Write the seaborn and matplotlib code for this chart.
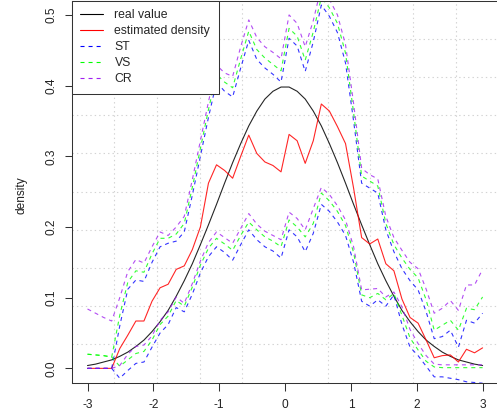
import numpy as np
import pandas as pd
import matplotlib
matplotlib.use("Agg")
import matplotlib.pyplot as plt
import seaborn as sns
from matplotlib.lines import Line2D

# ---------------- data ----------------
x_grid = np.linspace(-3, 3, 50)

real_value = [0.004, 0.006, 0.009, 0.012, 0.017, 0.023, 0.031, 0.040, 0.052, 0.066,
              0.082, 0.102, 0.124, 0.148, 0.175, 0.203, 0.232, 0.262, 0.291, 0.318,
              0.343, 0.364, 0.381, 0.392, 0.398, 0.398, 0.392, 0.381, 0.364, 0.343,
              0.318, 0.291, 0.262, 0.232, 0.203, 0.175, 0.148, 0.124, 0.102, 0.082,
              0.066, 0.052, 0.040, 0.031, 0.023, 0.017, 0.012, 0.009, 0.006, 0.004]

estimated_density = [0.000, 0.000, 0.000, 0.000, 0.028, 0.047, 0.067, 0.067, 0.095, 0.114,
                     0.119, 0.140, 0.145, 0.168, 0.200, 0.262, 0.288, 0.280, 0.269, 0.300,
                     0.330, 0.304, 0.292, 0.287, 0.278, 0.331, 0.322, 0.290, 0.322, 0.374,
                     0.364, 0.342, 0.318, 0.255, 0.185, 0.176, 0.183, 0.148, 0.138, 0.098,
                     0.072, 0.064, 0.040, 0.015, 0.018, 0.019, 0.009, 0.027, 0.022, 0.029]

st_upper = [0.000, 0.000, 0.000, 0.000, 0.060, 0.112, 0.125, 0.123, 0.150, 0.172,
            0.177, 0.180, 0.193, 0.245, 0.300, 0.355, 0.405, 0.392, 0.384, 0.425,
            0.464, 0.437, 0.425, 0.416, 0.405, 0.467, 0.456, 0.420, 0.462, 0.514,
            0.498, 0.475, 0.432, 0.350, 0.262, 0.255, 0.248, 0.196, 0.165, 0.141,
            0.124, 0.111, 0.080, 0.042, 0.045, 0.054, 0.030, 0.068, 0.064, 0.078]

st_lower = [0.000, 0.000, 0.000, 0.000, -0.014, -0.003, 0.007, 0.009, 0.030, 0.050,
            0.062, 0.086, 0.080, 0.105, 0.135, 0.158, 0.172, 0.164, 0.153, 0.175,
            0.196, 0.182, 0.172, 0.166, 0.156, 0.196, 0.186, 0.165, 0.191, 0.232,
            0.222, 0.207, 0.188, 0.150, 0.095, 0.088, 0.097, 0.088, 0.104, 0.062,
            0.030, 0.018, 0.003, -0.012, -0.012, -0.014, -0.016, -0.019, -0.020, -0.021]

vs_upper = [0.020, 0.019, 0.018, 0.016, 0.075, 0.122, 0.138, 0.136, 0.162, 0.184,
            0.184, 0.190, 0.205, 0.256, 0.311, 0.366, 0.416, 0.405, 0.397, 0.438,
            0.477, 0.451, 0.439, 0.430, 0.421, 0.481, 0.470, 0.436, 0.476, 0.525,
            0.510, 0.488, 0.446, 0.362, 0.272, 0.265, 0.258, 0.205, 0.175, 0.156,
            0.140, 0.128, 0.097, 0.054, 0.061, 0.068, 0.054, 0.085, 0.083, 0.101]

vs_lower = [0.020, 0.019, 0.018, 0.016, 0.003, 0.012, 0.021, 0.024, 0.040, 0.062,
            0.074, 0.096, 0.088, 0.115, 0.146, 0.170, 0.184, 0.176, 0.167, 0.188,
            0.207, 0.196, 0.186, 0.180, 0.172, 0.210, 0.200, 0.186, 0.205, 0.248,
            0.237, 0.222, 0.202, 0.164, 0.104, 0.100, 0.106, 0.097, 0.106, 0.075,
            0.043, 0.026, 0.010, 0.002, 0.001, 0.001, 0.001, 0.001, 0.001, 0.001]

cr_upper = [0.084, 0.078, 0.072, 0.067, 0.100, 0.137, 0.154, 0.149, 0.172, 0.193,
            0.188, 0.200, 0.215, 0.267, 0.322, 0.377, 0.429, 0.418, 0.413, 0.455,
            0.493, 0.468, 0.455, 0.447, 0.438, 0.500, 0.488, 0.455, 0.492, 0.540,
            0.522, 0.500, 0.458, 0.375, 0.283, 0.274, 0.268, 0.215, 0.185, 0.167,
            0.150, 0.141, 0.112, 0.078, 0.085, 0.096, 0.082, 0.118, 0.118, 0.140]

cr_lower = [0.000, 0.000, 0.000, 0.000, 0.004, 0.020, 0.031, 0.033, 0.046, 0.068,
            0.080, 0.101, 0.092, 0.120, 0.152, 0.178, 0.193, 0.185, 0.177, 0.198,
            0.219, 0.204, 0.194, 0.188, 0.182, 0.221, 0.212, 0.196, 0.226, 0.256,
            0.246, 0.230, 0.210, 0.172, 0.111, 0.112, 0.113, 0.101, 0.108, 0.087,
            0.055, 0.035, 0.018, 0.006, 0.005, 0.005, 0.005, 0.005, 0.005, 0.005]

legend_labels = ["real value", "estimated density", "ST", "VS", "CR"]
x_ticks = [-3, -2, -1, 0, 1, 2, 3]
x_tick_labels = ["-3", "-2", "-1", "0", "1", "2", "3"]
y_ticks = [0.0, 0.1, 0.2, 0.3, 0.4, 0.5]
y_tick_labels = ["0.0", "0.1", "0.2", "0.3", "0.4", "0.5"]
y_label = "density"

# ---------------- style ----------------
sns.set_style("white")
plt.rcParams.update({
    "axes.unicode_minus": False,
    "lines.scale_dashes": False,
    "font.size": 8.6,
})
plt.rcParams["font.family"] = ["Liberation Sans", "DejaVu Sans"]

COL_REAL = "#000000"
COL_EST = "#FF0000"
COL_ST = "#0000FF"
COL_VS = "#00FF00"
COL_CR = "#A020F0"
LW = 0.8
DASH = (0, (2.9, 2.9))

fig = plt.figure(figsize=(4.97, 4.16), dpi=100)
ax = fig.add_axes([71.7 / 497, (416 - 382.5) / 416, (498.4 - 71.7) / 497, (382.5 - 0.8) / 416])

xlim = (-3.24, 3.24)
ylim = (-0.02, 0.52)

df = pd.DataFrame({
    "x": x_grid,
    "real": real_value,
    "est": estimated_density,
    "st_u": st_upper, "st_l": st_lower,
    "vs_u": vs_upper, "vs_l": vs_lower,
    "cr_u": cr_upper, "cr_l": cr_lower,
})

sns.lineplot(data=df, x="x", y="real", ax=ax, color=COL_REAL, linewidth=LW, alpha=0.85)
sns.lineplot(data=df, x="x", y="est", ax=ax, color=COL_EST, linewidth=LW, alpha=0.85)
for col, c in [("st_u", COL_ST), ("st_l", COL_ST), ("vs_u", COL_VS), ("vs_l", COL_VS),
               ("cr_u", COL_CR), ("cr_l", COL_CR)]:
    sns.lineplot(data=df, x="x", y=col, ax=ax, color=c, linewidth=LW, linestyle=DASH, alpha=0.8)

ax.set_xlim(*xlim)
ax.set_ylim(*ylim)

# R-style grid: 10 equal cells across the plot region
gx = [xlim[0] + (xlim[1] - xlim[0]) * i / 10 for i in range(1, 10)]
gy = [ylim[0] + (ylim[1] - ylim[0]) * i / 10 for i in range(1, 10)]
ax.set_xticks(gx, minor=True)
ax.set_yticks(gy, minor=True)
ax.grid(which="minor", color="#D3D3D3", linestyle=(0, (1, 2.2)), linewidth=0.8)
ax.grid(which="major", visible=False)
ax.set_axisbelow(True)

ax.set_xticks(x_ticks)
ax.set_xticklabels(x_tick_labels)
ax.set_yticks(y_ticks)
ax.set_yticklabels(y_tick_labels, rotation=90, va="center")
ax.tick_params(which="minor", length=0)
ax.tick_params(which="major", direction="out", length=5.4, width=0.75, color="#333333",
               labelsize=8.6, labelcolor="#222222")
ax.tick_params(axis="x", which="major", pad=6.5)
ax.tick_params(axis="y", which="major", pad=4.5)
ax.xaxis.set_ticks_position("bottom")
ax.yaxis.set_ticks_position("left")

for s in ax.spines.values():
    s.set_visible(True)
    s.set_color("#333333")
    s.set_linewidth(0.75)

ax.set_xlabel("")
ax.set_ylabel(y_label, fontsize=8.6, color="#222222")
ax.yaxis.set_label_coords((28 - 71.7) / 426.7, 0.49)

handles = [
    Line2D([], [], color=COL_REAL, linewidth=LW),
    Line2D([], [], color=COL_EST, linewidth=LW),
    Line2D([], [], color=COL_ST, linewidth=LW, linestyle=DASH),
    Line2D([], [], color=COL_VS, linewidth=LW, linestyle=DASH),
    Line2D([], [], color=COL_CR, linewidth=LW, linestyle=DASH),
]
leg = ax.legend(handles, legend_labels, loc="upper left", bbox_to_anchor=(0, 1),
                borderaxespad=0, fancybox=False, framealpha=1, edgecolor="#333333",
                fontsize=8.8, handlelength=1.9, handletextpad=0.9, labelspacing=0.32,
                borderpad=0.7)
leg.get_frame().set_linewidth(0.75)

fig.savefig("out.png", dpi=100)
